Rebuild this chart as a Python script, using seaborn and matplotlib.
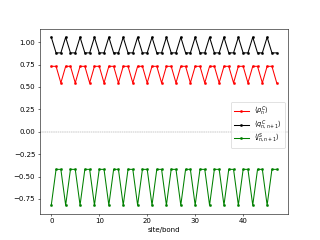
import numpy as np
import pandas as pd
import matplotlib
matplotlib.use("Agg")
import matplotlib.pyplot as plt
import seaborn as sns

sites = list(range(48))
rho = [0.73, 0.73, 0.545] * 16
q = [1.055, 0.88, 0.88] * 16
j = [-0.82, -0.42, -0.42] * 16

labels = [r"$\langle \rho^C_n \rangle$",
          r"$\langle q^C_{n,n+1} \rangle$",
          r"$\langle j^S_{n,n+1} \rangle$"]
colors = ["red", "black", "green"]

fig, ax = plt.subplots(figsize=(6.4, 4.8), dpi=50)
for vals, lab, c in zip([rho, q, j], labels, colors):
    sns.lineplot(x=sites, y=vals, ax=ax, color=c, marker=".", markersize=6,
                 markeredgecolor=c, label=lab)
ax.axhline(0, color="gray", lw=0.6, ls="--")
ax.set_xlabel("site/bond")
ax.legend(loc="center right", fontsize=9.5, labelspacing=0.1,
          handlelength=2.3, bbox_to_anchor=(1.0, 0.48))
fig.savefig("out.png", dpi=50)
